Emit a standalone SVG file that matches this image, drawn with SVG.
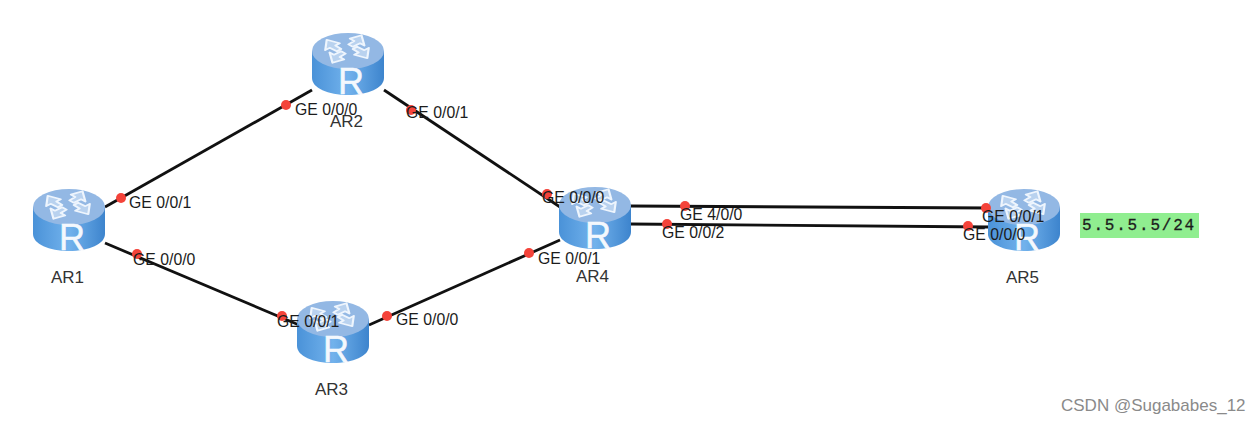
<svg xmlns="http://www.w3.org/2000/svg" xmlns:xlink="http://www.w3.org/1999/xlink" width="1260" height="425" viewBox="0 0 1260 425">
<style>
text{font-family:"Liberation Sans",Arial,sans-serif;font-size:15.8px;fill:#1c1c1c}
.l{font-size:17px;fill:#333}
.c{stroke:#111;stroke-width:2.8;fill:none}
.d{fill:#f4433a}
.a{stroke:#eef5fd;stroke-width:1.5;fill:#b9d2ef;stroke-linejoin:round}
.R{font-size:36px;fill:#f4f8fd;stroke:#f4f8fd;stroke-width:.5}
</style>
<defs>
<linearGradient id="body" x1="0" x2="1" y1="0" y2="0">
<stop offset="0" stop-color="#4a92d8"/><stop offset=".5" stop-color="#72b2ec"/><stop offset="1" stop-color="#3d84cd"/>
</linearGradient>
<g id="router">
<path d="M-36 -13V14C-36 24 -20 31 0 31S36 24 36 14V-13Z" fill="url(#body)"/>
<ellipse cx="0" cy="-13" rx="36" ry="18" fill="#93b8e4"/>
<path class="a" transform="translate(-1 -15) scale(1.45 1.15) translate(0 13)" d="M-14 -21l9 3 -3 2 4 3 -3 2 -5 -3 -3 2ZM10 -25l-8 3 3 2 -4 3 3 2 5 -3 3 2ZM14 -5l-9 -3 3 -2 -4 -3 3 -2 5 3 3 -2ZM-10 -1l8 -3 -3 -2 4 -3 -3 -2 -5 3 -3 -2Z"/>
<text class="R" x="3" y="30" text-anchor="middle">R</text>
</g>
</defs>
<rect width="1260" height="425" fill="#fff"/>
<g id="connectors">
<line class="c" x1="105" y1="207" x2="312" y2="90"/>
<line class="c" x1="105" y1="243" x2="299" y2="325"/>
<line class="c" x1="384" y1="90" x2="560" y2="207"/>
<line class="c" x1="369" y1="325" x2="560" y2="240"/>
<line class="c" x1="630" y1="206" x2="990" y2="208"/>
<line class="c" x1="630" y1="224" x2="990" y2="227"/>
</g>
<g id="AR1"><use xlink:href="#router" x="69" y="220"/><text class="l" x="51" y="283">AR1</text></g>
<g id="AR2"><use xlink:href="#router" x="348" y="64"/><text class="l" x="330" y="127">AR2</text></g>
<g id="AR3"><use xlink:href="#router" x="333" y="332"/><text class="l" x="315" y="395">AR3</text></g>
<g id="AR4"><use xlink:href="#router" x="595" y="218"/><text class="l" x="576" y="282">AR4</text></g>
<g id="AR5"><use xlink:href="#router" x="1024" y="220"/><text class="l" x="1006" y="283">AR5</text></g>
<g id="ports">
<circle class="d" cx="121" cy="198" r="5"/><text x="129" y="208">GE 0/0/1</text>
<circle class="d" cx="137" cy="254" r="5"/><text x="133" y="265">GE 0/0/0</text>
<circle class="d" cx="286" cy="105" r="5"/><text x="295" y="115">GE 0/0/0</text>
<circle class="d" cx="411" cy="110" r="5"/><text x="406" y="118">GE 0/0/1</text>
<circle class="d" cx="282" cy="316" r="5"/><text x="277" y="327">GE 0/0/1</text>
<circle class="d" cx="387" cy="316" r="5"/><text x="396" y="325">GE 0/0/0</text>
<circle class="d" cx="547" cy="194" r="5"/><text x="542" y="203">GE 0/0/0</text>
<circle class="d" cx="529" cy="253" r="5"/><text x="538" y="264">GE 0/0/1</text>
<circle class="d" cx="685" cy="206" r="5"/><text x="680" y="220">GE 4/0/0</text>
<circle class="d" cx="667" cy="224" r="5"/><text x="662" y="238">GE 0/0/2</text>
<circle class="d" cx="986" cy="208" r="5"/><text x="982" y="222">GE 0/0/1</text>
<circle class="d" cx="968" cy="226" r="5"/><text x="963" y="240">GE 0/0/0</text>
</g>
<g id="note">
<rect x="1080" y="213" width="119" height="25" fill="#90ee90"/>
<text x="1082" y="230" style="font-family:'Liberation Mono','DejaVu Sans Mono',monospace;font-size:16px;letter-spacing:1.8px;stroke:#1c1c1c;stroke-width:.3px">5.5.5.5/24</text>
</g>
<text x="1061" y="411" style="font-size:17px;fill:#8a8a8a">CSDN @Sugababes_12</text>
</svg>
